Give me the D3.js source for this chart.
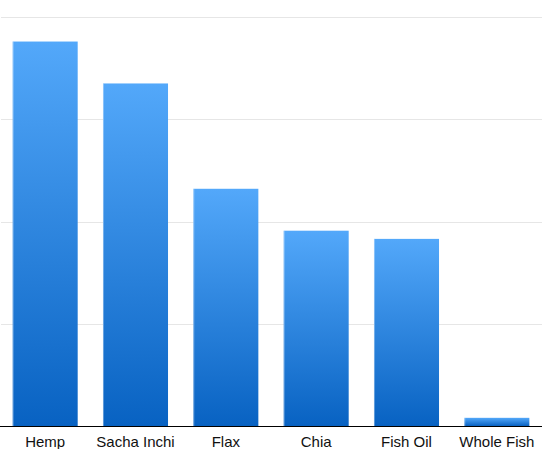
<!DOCTYPE html>
<html><head><meta charset="utf-8">
<script src="https://cdn.jsdelivr.net/npm/d3@7"></script>
<style>html,body{margin:0;padding:0;background:#fff}svg{display:block}</style>
</head><body>
<script>
const categories = ["Hemp","Sacha Inchi","Flax","Chia","Fish Oil","Whole Fish"];
const values = [3.76, 3.35, 2.32, 1.91, 1.83, 0.08];
const gridTicks = [0, 1, 2, 3, 4];

const W = 542, H = 449;
const svg = d3.select("body").append("svg").attr("width", W).attr("height", H);

const x = d3.scaleBand().domain(categories).range([0, 542]).paddingInner(0.28).paddingOuter(0.14);
const y = d3.scaleLinear().domain([0, 4]).range([426, 17]);

const defs = svg.append("defs");
const g = defs.append("linearGradient").attr("id","barGrad").attr("x1",0).attr("y1",0).attr("x2",0).attr("y2",1);
g.append("stop").attr("offset","0%").attr("stop-color","#53a8fa");
g.append("stop").attr("offset","100%").attr("stop-color","#0862c2");

svg.append("g").selectAll("line").data(gridTicks.slice(1)).join("line")
  .attr("x1", 1).attr("x2", W).attr("y1", d => Math.round(y(d)) + 0.5).attr("y2", d => Math.round(y(d)) + 0.5)
  .attr("stroke", "#e6e6e6").attr("stroke-width", 1);

svg.append("g").selectAll("rect").data(values).join("rect")
  .attr("x", (d, i) => x(categories[i]))
  .attr("y", d => y(d))
  .attr("width", x.bandwidth())
  .attr("height", d => y(0) - y(d))
  .attr("fill", "url(#barGrad)");

svg.append("g").selectAll("line").data(values).join("line")
  .attr("x1", (d, i) => x(categories[i]) + 0.5).attr("x2", (d, i) => x(categories[i]) + 0.5)
  .attr("y1", d => y(d)).attr("y2", y(0))
  .attr("stroke", "#ffffff").attr("stroke-opacity", 0.35);

const xAxis = d3.axisBottom(x).tickSize(0).tickPadding(10);
const ax = svg.append("g").attr("transform", `translate(0,${y(0)})`).call(xAxis);
ax.select(".domain").attr("stroke", "#000").attr("stroke-width", 1.2).attr("d", `M0,0.5H${W}`);
ax.selectAll("text").attr("font-family", "Liberation Sans, Arial, sans-serif").attr("font-size", 15).attr("fill", "#111");
</script>
</body></html>
